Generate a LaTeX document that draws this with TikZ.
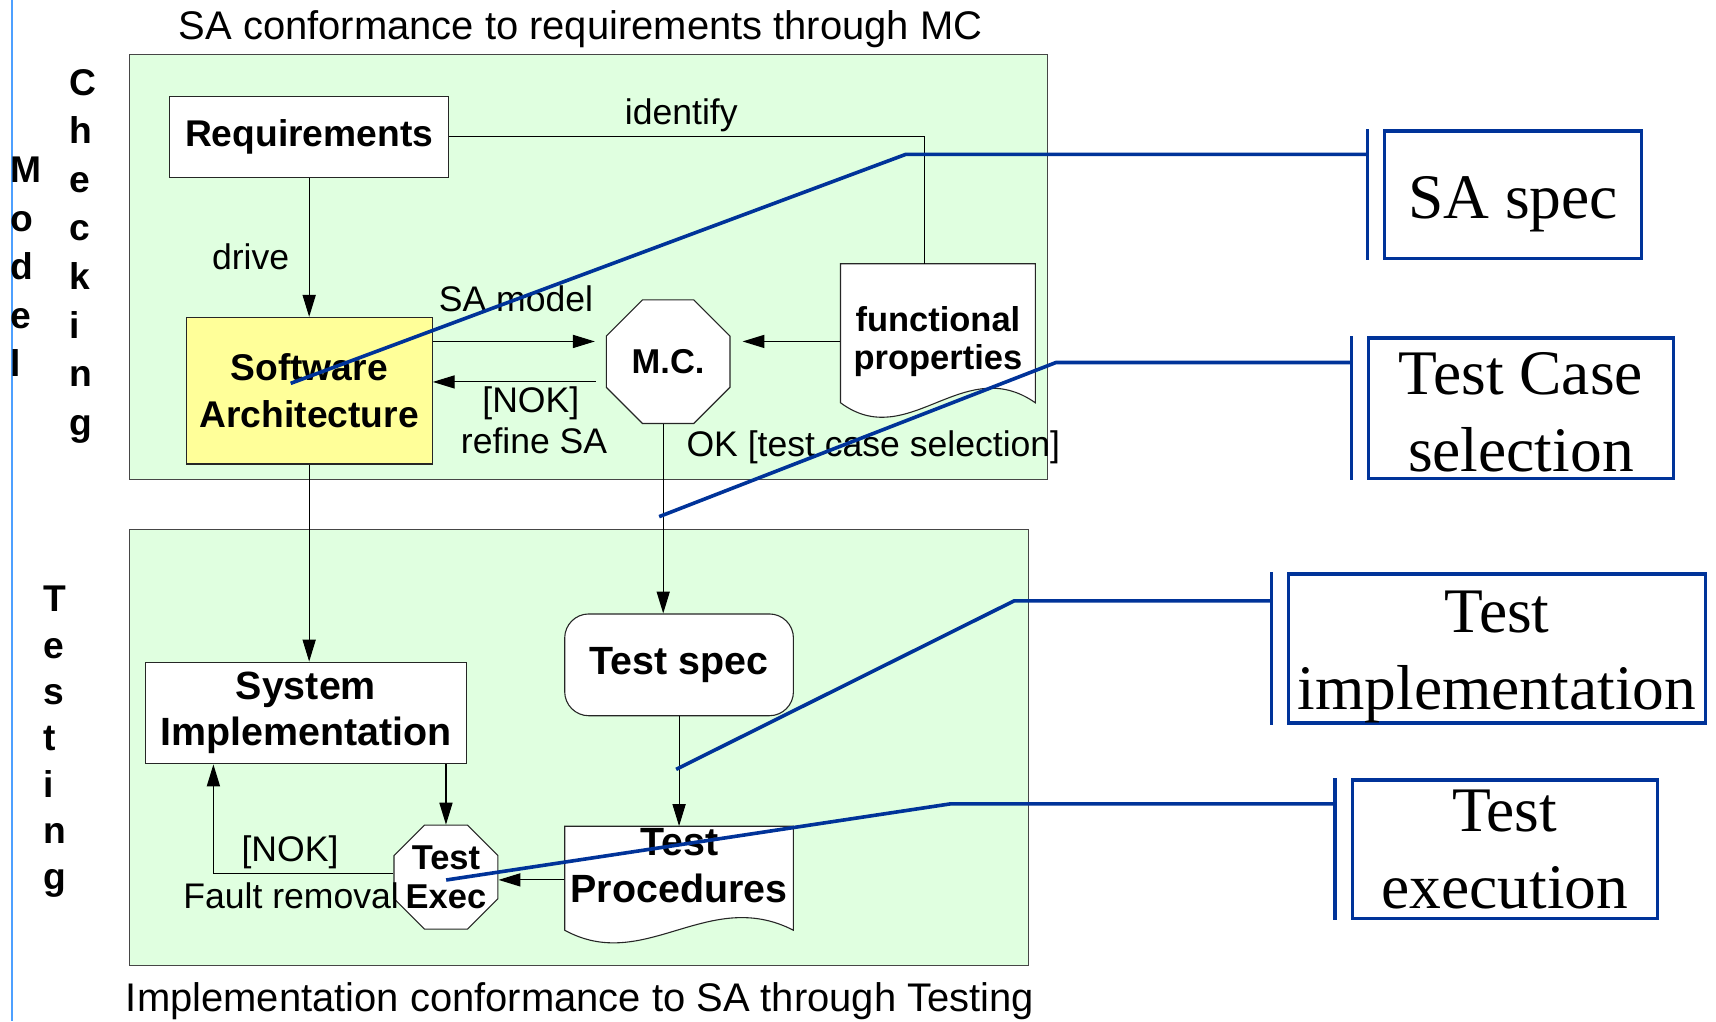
\documentclass[tikz,border=0pt]{standalone}
\usepackage{fontspec}
\setmainfont{Liberation Sans}
\newfontfamily\serifface{Liberation Serif}
\usetikzlibrary{arrows.meta,shapes.geometric}
\definecolor{panelgreen}{RGB}{224,255,224}
\definecolor{boxyellow}{RGB}{255,255,153}
\definecolor{leaderblue}{RGB}{0,51,153}
\definecolor{marginblue}{RGB}{77,160,255}
\definecolor{edgegray}{RGB}{70,70,70}
\newcommand\fsz[2]{\fontsize{#1}{#2}\selectfont}
\newcommand\liftto[1]{\rule{0pt}{#1}}

\begin{document}
\begin{tikzpicture}[x=1pt,y=-1pt,
  panel/.style={draw=edgegray, line width=1.1pt, fill=panelgreen},
  shapebox/.style={draw=black!85, line width=1pt, fill=white, inner sep=0pt, align=center},
  octa/.style={shapebox, regular polygon, regular polygon sides=8},
  docshape/.style={draw=black!85, line width=1pt, fill=white},
  doctext/.style={inner sep=0pt, align=center},
  lbl/.style={inner sep=0pt, anchor=base, font=\fsz{32.5}{38}},
  vert/.style={inner sep=0pt, anchor=north west, align=left, font=\bfseries\fsz{34}{44.4}},
  flow/.style={draw=black, line width=1pt},
  arr/.style={flow, -{Triangle[length=20pt,width=12pt]}},
  leader/.style={draw=leaderblue, line width=3.3pt},
  notebox/.style={draw=leaderblue, line width=3.2pt, inner sep=0pt, align=center, font=\serifface\fsz{58}{70.5}},
]
% canvas
\path[fill=white, use as bounding box] (0,0) rectangle (1568,933);
\draw[marginblue, line width=1.5pt] (10.7,0) -- (10.7,933);

% the two phases
\draw[panel] (118,50) rectangle (957,438);
\draw[panel] (118,484) rectangle (940,882);
\node[lbl, font=\fsz{36.5}{44}] (ttop) at (530.5,36) {SA conformance to requirements through MC};
\node[lbl, font=\fsz{36.5}{44}] (tbot) at (530,924.4) {Implementation conformance to SA through Testing};

% vertical phase names
\node[vert] (vmodel) at (9,143.2) {M\\o\\d\\e\\l};
\node[vert] (vcheck) at (63,63) {C\\h\\e\\c\\k\\i\\n\\g};
\node[vert, font=\bfseries\fsz{34}{42.3}] (vtest) at (40,535.5) {T\\e\\s\\t\\i\\n\\g};

% model checking phase
\node[shapebox, minimum width=255pt, minimum height=74pt, font=\bfseries\fsz{34}{42.5}] (req) at (282.5,125) {Requirements};
\node[shapebox, fill=boxyellow, minimum width=225pt, minimum height=134pt, font=\bfseries\fsz{34}{42.5}] (sa) at (282.5,357) {Software\\Architecture};
\node[octa, minimum size=122.3pt, font=\bfseries\fsz{31.5}{35}] (mc) at (610.5,330.5) {M.C.};
\path[docshape] (768,241) -- (946,241) -- (946,368) .. controls (880,322) and (830,414) .. (768,368) -- cycle;
\node[doctext, minimum width=178pt, minimum height=142pt, font=\bfseries\fsz{31.5}{35}] (fp) at (857,312) {functional\\properties};

% testing phase
\node[shapebox, rounded corners=22pt, minimum width=209pt, minimum height=93pt, font=\bfseries\fsz{36}{43}] (ts) at (620.5,607.5) {Test spec};
\node[shapebox, minimum width=293pt, minimum height=93pt, font=\bfseries\fsz{36}{42.5}] (si) at (279.5,651.5) {System\\Implementation};
\path[docshape] (516,755) -- (725,755) -- (725,850) .. controls (647,810) and (589,890) .. (516,850) -- cycle;
\node[doctext, minimum width=209pt, minimum height=72.8pt, font=\bfseries\fsz{36}{43}] (tp) at (620.5,791.4) {Test\\Procedures};
\node[octa, inner sep=-5pt, minimum size=102.8pt, font=\bfseries\fsz{31.5}{36}] (te) at (407.5,801.5) {Test\\Exec};

% flows
\draw[flow] (req.east) -| ([xshift=-12pt]fp.north);
\draw[arr] (req.south) -- (sa.north);
\draw[arr, shorten >=10pt] (sa.east |- 0,312) -- (mc.west |- 0,312);
\draw[arr, shorten <=9pt] (mc.west |- 0,349) -- (sa.east |- 0,349);
\draw[arr, shorten >=11pt] (fp.west) -- (mc.east |- fp.west);
\draw[arr] ([xshift=-4.5pt]mc.south) -- ([xshift=-4.5pt]mc.south |- ts.north);
\draw[arr] (sa.south) -- (sa.south |- si.north);
\draw[arr] (ts.south) -- (tp.north);
\draw[arr] (si.south -| te.north) -- (te.north);
\draw[arr] (tp.west |- 0,804) -- (te.east |- 0,804);
\draw[arr] ([yshift=3.5pt]te.west) -| ([xshift=-84.5pt]si.south);

% flow labels
\node[lbl] (lid) at (622.5,114.2) {identify};
\node[lbl] (ldrive) at (229,246.7) {drive};
\node[lbl] (lsam) at (471.5,284.8) {SA model};
\node[lbl] (lnok) at (485,377) {[NOK]};
\node[lbl] (lref) at (488,414.3) {refine SA};
\node[lbl] (lok) at (798,416.7) {OK [test case selection]};
\node[lbl] (lnok2) at (265,787.4) {[NOK]};
\node[lbl] (lfault) at (266,830) {Fault removal};

% activity notes
\node[notebox, minimum width=235pt, minimum height=116.7pt] (nsa) at (1382.5,177.9) {\liftto{55pt}SA spec};
\node[notebox, minimum width=278.7pt, minimum height=128.5pt] (ntc) at (1389.7,373.2) {\liftto{45.9pt}Test Case\\selection};
\node[notebox, minimum width=381.3pt, minimum height=127pt] (nti) at (1367.9,592.5) {\liftto{53.4pt}Test\\implementation};
\node[notebox, minimum width=278.7pt, minimum height=126.5pt] (nte) at (1375,776.2) {Test\\execution};

\foreach \n in {nsa,ntc,nti,nte}{
  \coordinate (b\n) at ([xshift=-14pt]\n.west);
  \draw[leader] ([xshift=-14pt]\n.north west) -- ([xshift=-14pt]\n.south west);
}

% leaders from the diagram to the notes
\coordinate (psa) at (265.6,350.3);
\coordinate (ptc) at (602.3,472.1);
\coordinate (pti) at (617.8,703);
\coordinate (pte) at (407.7,804.1);
\draw[leader] (psa) -- (827.8,141) -- (bnsa |- 0,141);
\draw[leader] (ptc) -- (965,331.2) -- (bntc |- 0,331.2);
\draw[leader] (pti) -- (926.7,549) -- (bnti |- 0,549);
\draw[leader] (pte) -- (868,734.6) -- (bnte |- 0,734.6);
\end{tikzpicture}
\end{document}
